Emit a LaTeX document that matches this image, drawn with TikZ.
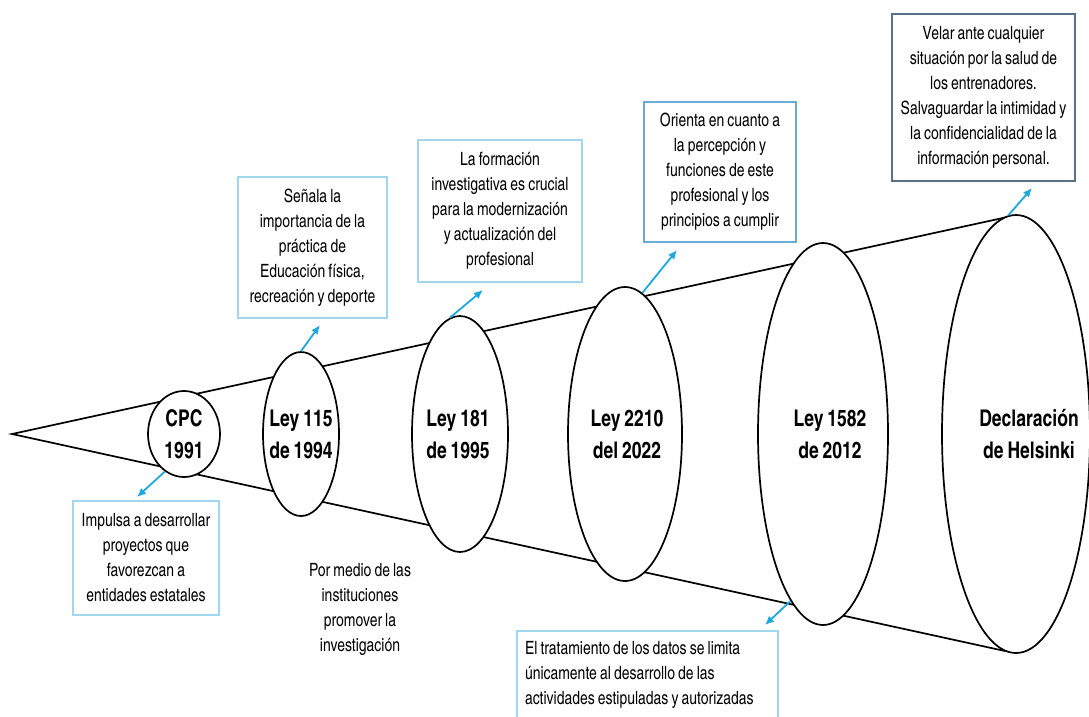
\documentclass[tikz,border=0pt]{standalone}
\usepackage{fontspec}
\setmainfont{texgyreheroscn}[Extension=.otf,UprightFont=*-regular,BoldFont=*-bold,FakeStretch=0.93,WordSpace=0.8]
\usepackage{tikz}
\usetikzlibrary{shapes.geometric, positioning, arrows.meta}
\definecolor{flecha}{RGB}{30,168,224}
\definecolor{cajaclara}{RGB}{160,214,238}
\definecolor{cajamedia}{RGB}{105,172,214}
\definecolor{cajaoscura}{RGB}{88,112,138}
\tikzset{
  elip/.style={ellipse, draw, line width=1.7pt, fill=white, inner sep=0pt},
  rotulo/.style={font=\fontsize{23}{32}\selectfont\bfseries, align=flush center, inner sep=0pt},
  caja/.style={draw=cajaclara, line width=1.3pt, align=flush center, inner sep=0pt,
    font=\fontsize{18.3}{25}\selectfont},
  flechita/.style={-{Latex[length=9pt,width=8pt]}, flecha, line width=1.8pt}
}

\begin{document}
\begin{tikzpicture}[x=1pt,y=-1pt]
\useasboundingbox (0,0) rectangle (1089,716);
\clip (0,0) rectangle (1089,716);

\coordinate (V) at (12,434);
\coordinate (T) at (1012,216);
\coordinate (B) at (1005,651);
\draw[line width=1.7pt] (T)--(V)--(B);

\foreach \n/\cx/\rx/\ry/\dx/\txt in {cpc/184/36/43/0/{CPC\\1991},
  ley115/301/38/82/0/{Ley 115\\de 1994}, ley181/460/48/118/-2/{Ley 181\\de 1995},
  ley2210/625/57/147/2/{Ley 2210\\del 2022}, ley1582/823/65/191/7/{Ley 1582\\de 2012},
  hel/1016/74/219/13/{Declaración\\de Helsinki}}
{
    \node[elip, minimum width=2*\rx, minimum height=2*\ry,
      label={[rotulo, xshift=\dx]center:\txt}] (\n) at (\cx,434) {};
}

\node[caja, minimum width=146, minimum height=114, text width=140] (b1) at (146,558)
  {Impulsa a desarrollar\\proyectos que\\favorezcan a\\entidades estatales};
\node[caja, minimum width=149, minimum height=141, text width=143] (b2) at (312.5,247.5)
  {Señala la\\importancia de la\\práctica de\\Educación física,\\recreación y deporte};
\node[caja, minimum width=164, minimum height=142, text width=158] (b3) at (500,211)
  {La formación\\investigativa es crucial\\para la modernización\\y actualización del\\profesional};
\node[caja, draw=cajamedia, minimum width=152, minimum height=140, text width=146] (b4) at (720,172)
  {Orienta en cuanto a\\la percepción y\\funciones de este\\profesional y los\\principios a cumplir};
\node[caja, draw=cajaoscura, minimum width=183, minimum height=167, text width=177] (b5) at (983.5,97.5)
  {Velar ante cualquier\\situación por la salud de\\los entrenadores.\\Salvaguardar la intimidad y\\la confidencialidad de la\\información personal.};
\node[caja, align=flush left, minimum width=261, minimum height=88, text width=245] (b6) at (647.5,675)
  {El tratamiento de los datos se limita\\únicamente al desarrollo de las\\actividades estipuladas y autorizadas};
\node[caja, draw=none] (b7) at (360,609)
  {Por medio de las\\instituciones\\promover la\\investigación};

\coordinate (f1) at (137,497);
\coordinate (f2) at (320,325);
\coordinate (f3) at (483,290);
\coordinate (f4) at (677,250);
\coordinate (f5) at (1032,188);
\coordinate (f6) at (765,625);
\draw[flechita] (cpc.243)--(f1);
\draw[flechita] (ley115.north)--(f2);
\draw[flechita] (ley181.95)--(f3);
\draw[flechita] (ley2210.83)--(f4);
\draw[flechita] (hel.92)--(f5);
\draw[flechita] (ley1582.259)--(f6);
\end{tikzpicture}
\end{document}
